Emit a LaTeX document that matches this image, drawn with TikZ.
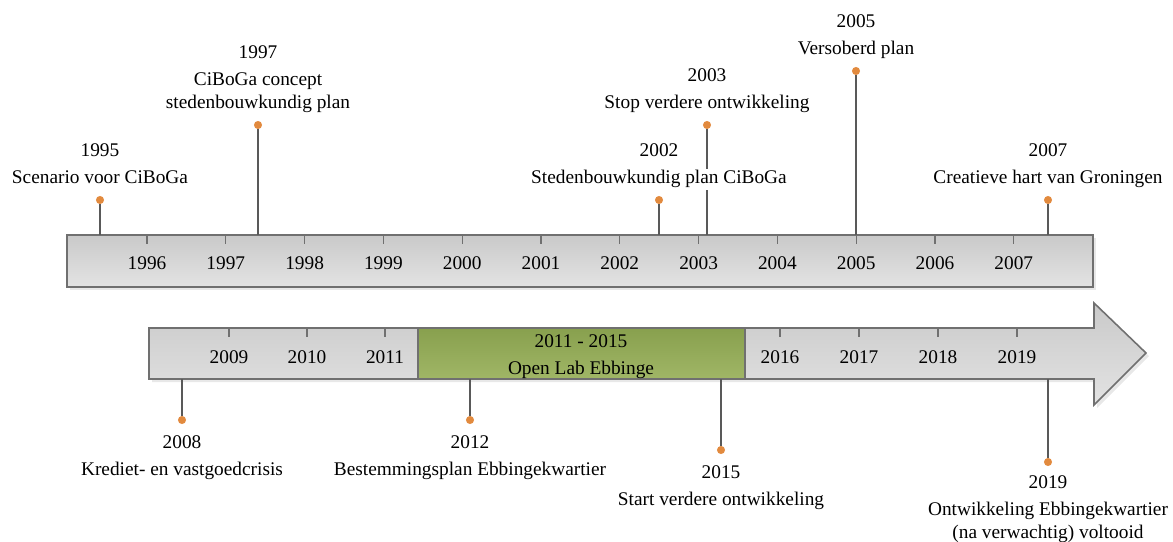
\documentclass[tikz,border=0pt]{standalone}
\usepackage{fontspec}
\setmainfont{Liberation Serif}
\usetikzlibrary{positioning}
\definecolor{tlgray}{RGB}{112,112,112}
\definecolor{tldotc}{RGB}{226,138,62}
\definecolor{tlgreentop}{RGB}{136,160,78}
\definecolor{tlgreenbot}{RGB}{160,182,102}
\newcommand{\tlmask}[1]{{\setlength{\fboxsep}{1pt}\colorbox{white}{#1}}}
\tikzset{
  tlbar/.style={draw=tlgray, line width=0.9pt, top color=black!21, bottom color=black!11},
  tlshadow/.style={fill=black!9, draw=none},
  tlopen/.style={draw=tlgray, line width=0.9pt, top color=tlgreentop, bottom color=tlgreenbot},
  tltick/.style={draw=tlgray, line width=0.7pt},
  tlstem/.style={draw=black!65, line width=0.7pt},
  tldot/.style={circle, fill=tldotc, inner sep=0pt, minimum size=4.6pt},
  tlyear/.style={font=\fontsize{11}{13}\selectfont, inner sep=1pt},
  tlevent/.style={font=\fontsize{11}{13}\selectfont, align=center, inner sep=1pt, text depth=2.5pt},
}

\begin{document}
\begin{tikzpicture}[x=0.02cm, y=-0.02cm]
  \useasboundingbox (0,0) rectangle (1173,541);
  % upper bar, 1995 - 2007
  \fill[tlshadow] (70,238) rectangle (1096,290);
  \draw[tlbar] (67,235) rectangle (1093,287);
  \coordinate (uptop) at (0,235);
  \foreach \yr [count=\i from 0] in {1996,...,2007} {
    \draw[tltick] (147+78.8*\i,235) -- ++(0,9);
    \node[tlyear] (y\yr) at (147+78.8*\i,263) {\yr};
  }

  % lower arrow, 2008 - 2019
  \fill[tlshadow] (152,331) -- (1097,331) -- (1097,306) -- (1149,356) -- (1097,408) -- (1097,382) -- (152,382) -- cycle;
  \draw[tlbar] (149,328) -- (1094,328) -- (1094,303) -- (1146,353) -- (1094,405) -- (1094,379) -- (149,379) -- cycle;
  \draw[tlopen] (418,328) rectangle (745,379);
  \node[tlyear, align=center] (openlab) at (581,357) {2011 - 2015\\[2.4pt]Open Lab Ebbinge};
  \coordinate (lowbot) at (0,379);
  \foreach \yr [count=\i from 0] in {2009,2010,2011} {
    \draw[tltick] (229+78*\i,328) -- ++(0,9);
    \node[tlyear] (y\yr) at (229+78*\i,357) {\yr};
  }
  \foreach \yr [count=\i from 0] in {2016,...,2019} {
    \draw[tltick] (780+79*\i,328) -- ++(0,9);
    \node[tlyear] (y\yr) at (780+79*\i,357) {\yr};
  }

  % events
  \foreach \ev/\px/\py in {1995/100/200, 1997/258/125, 2002/659/200, 2003/707/125, 2005/856/71, 2007/1048/200} {
    \node[tldot] (d\ev) at (\px,\py) {};
    \draw[tlstem] (d\ev) -- (d\ev |- uptop);
  }
  \foreach \ev/\px/\py in {2008/182/420, 2012/470/420, 2015/721/450, 2019/1048/462} {
    \node[tldot] (d\ev) at (\px,\py) {};
    \draw[tlstem] (d\ev) -- (d\ev |- lowbot);
  }

  \node[tlevent, above=3pt of d1995] (e1995) {1995\\[2.4pt]Scenario voor CiBoGa};
  \node[tlevent, above=3pt of d1997] (e1997) {1997\\[2.4pt]CiBoGa concept\\stedenbouwkundig plan};
  \node[tlevent, above=3pt of d2002] (e2002) {2002\\[2.4pt]\tlmask{Stedenbouwkundig plan CiBoGa}};
  \node[tlevent, above=3pt of d2003] (e2003) {2003\\[2.4pt]Stop verdere ontwikkeling};
  \node[tlevent, above=3pt of d2005] (e2005) {2005\\[2.4pt]Versoberd plan};
  \node[tlevent, above=3pt of d2007] (e2007) {2007\\[2.4pt]Creatieve hart van Groningen};

  \node[tlevent, below=5pt of d2008] (e2008) {2008\\[2.4pt]Krediet- en vastgoedcrisis};
  \node[tlevent, below=5pt of d2012] (e2012) {2012\\[2.4pt]Bestemmingsplan Ebbingekwartier};
  \node[tlevent, below=5pt of d2015] (e2015) {2015\\[2.4pt]Start verdere ontwikkeling};
  \node[tlevent, below=4pt of d2019] (e2019) {2019\\[2.4pt]Ontwikkeling Ebbingekwartier\\(na verwachtig) voltooid};
\end{tikzpicture}
\end{document}
